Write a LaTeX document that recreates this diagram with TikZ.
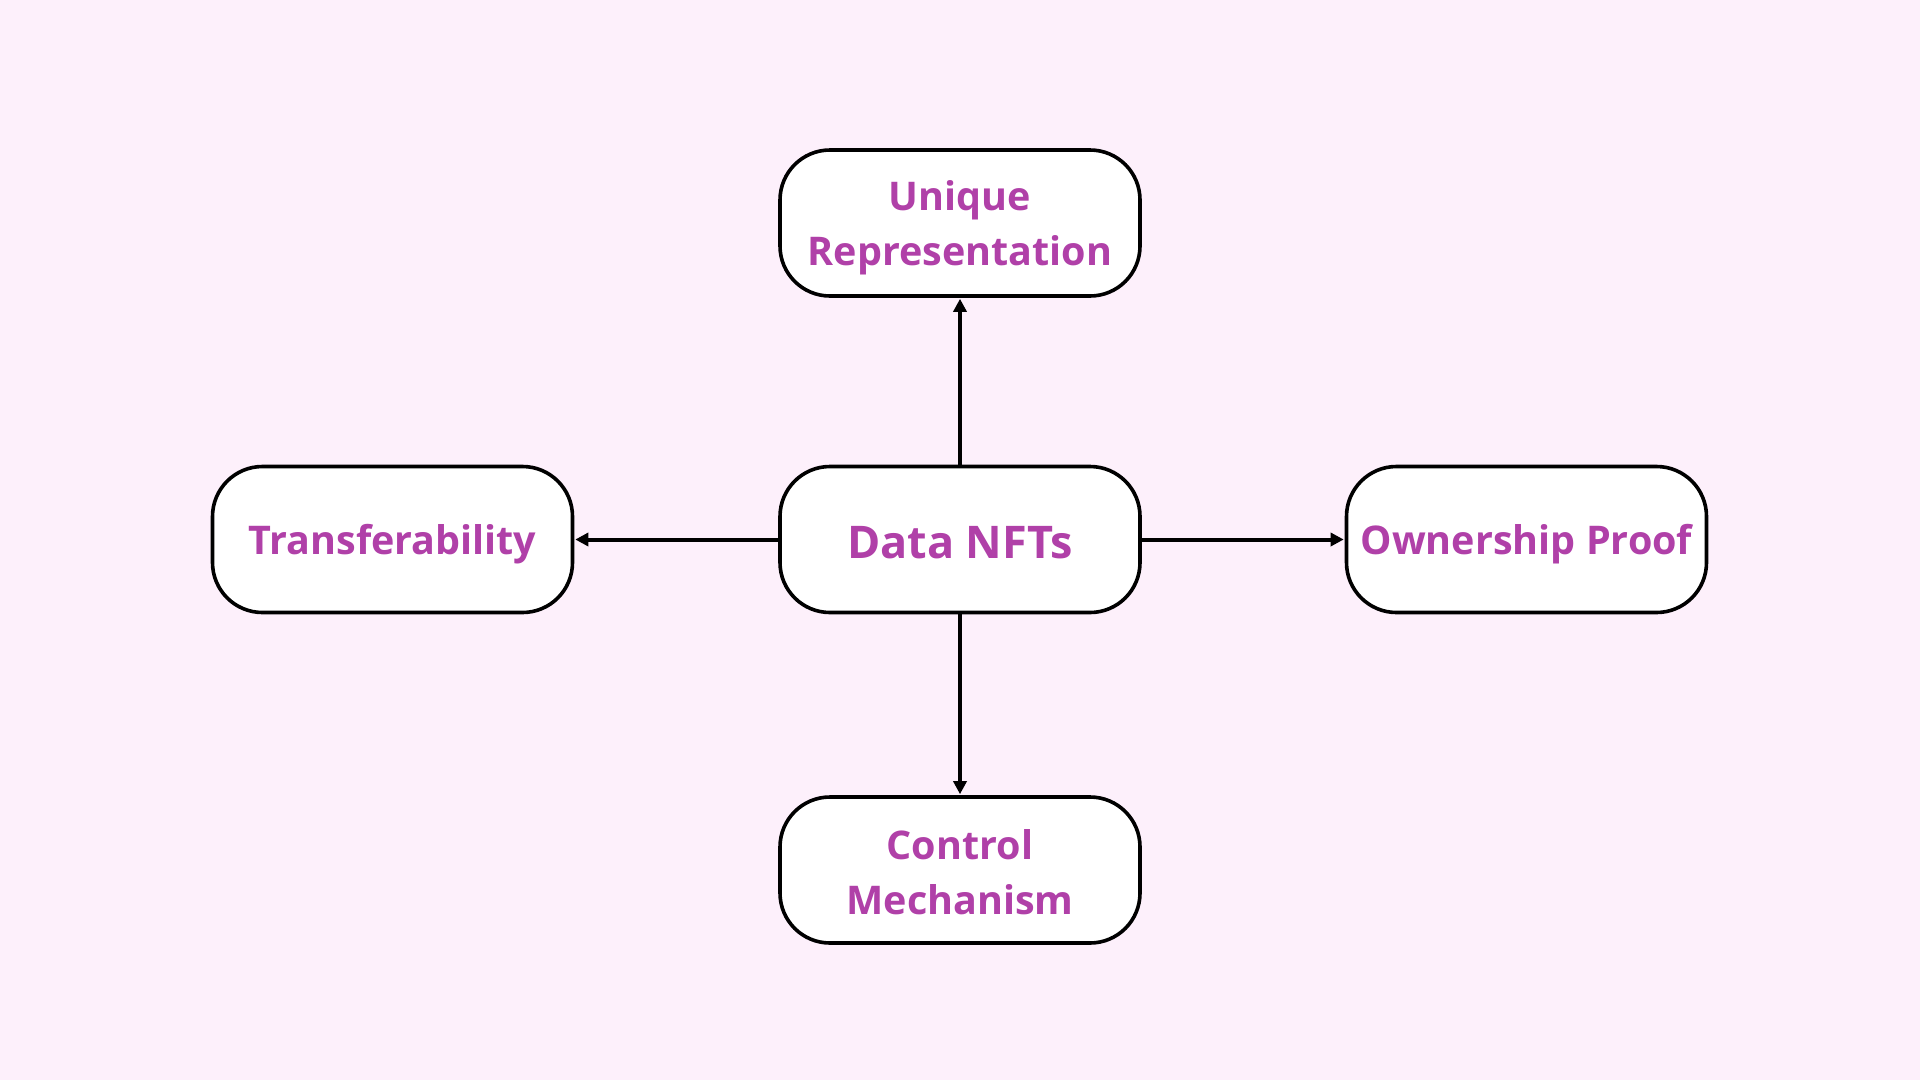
\documentclass[tikz,border=0pt]{standalone}
\usepackage{fontspec}
\setmainfont{Open Sans}
\usetikzlibrary{arrows.meta}
\definecolor{bgc}{HTML}{FDF0FB}
\definecolor{txtc}{HTML}{B040A8}
\tikzset{
  box/.style={draw=black, line width=3.6pt, fill=white, rounded corners=50pt,
    minimum width=360pt, minimum height=146pt},
  lbl/.style={align=center, text=txtc, font=\fontsize{39.5}{55}\selectfont\bfseries},
  conn/.style={line width=4pt, -{Triangle[length=13pt,width=13pt]}, shorten >=1pt}
}
\begin{document}
\begin{tikzpicture}[x=1pt,y=-1pt]
\fill[bgc] (0,0) rectangle (1920,1080);
\useasboundingbox (0,0) rectangle (1920,1080);
\node[box] (c) at (960,539.5) {};
\node[box] (t) at (960,223) {};
\node[box] (b) at (960,870) {};
\node[box] (l) at (392.5,539.5) {};
\node[box] (r) at (1526.5,539.5) {};
\node[lbl, font=\fontsize{45}{55}\selectfont\bfseries] (ct) at ([yshift=-3pt]c.center) {Data NFTs};
\node[lbl] (tt) at ([yshift=-5pt]t.center) {Unique\\Representation};
\node[lbl] (bt) at ([yshift=-2pt]b.center) {Control\\Mechanism};
\node[lbl] (lt) at ([yshift=-5pt]l.center) {Transferability};
\node[lbl] (rt) at ([yshift=-5pt]r.center) {Ownership Proof};
\draw[conn] (c) -- (t);
\draw[conn] (c) -- (b);
\draw[conn] (c) -- (l);
\draw[conn] (c) -- (r);
\end{tikzpicture}
\end{document}
